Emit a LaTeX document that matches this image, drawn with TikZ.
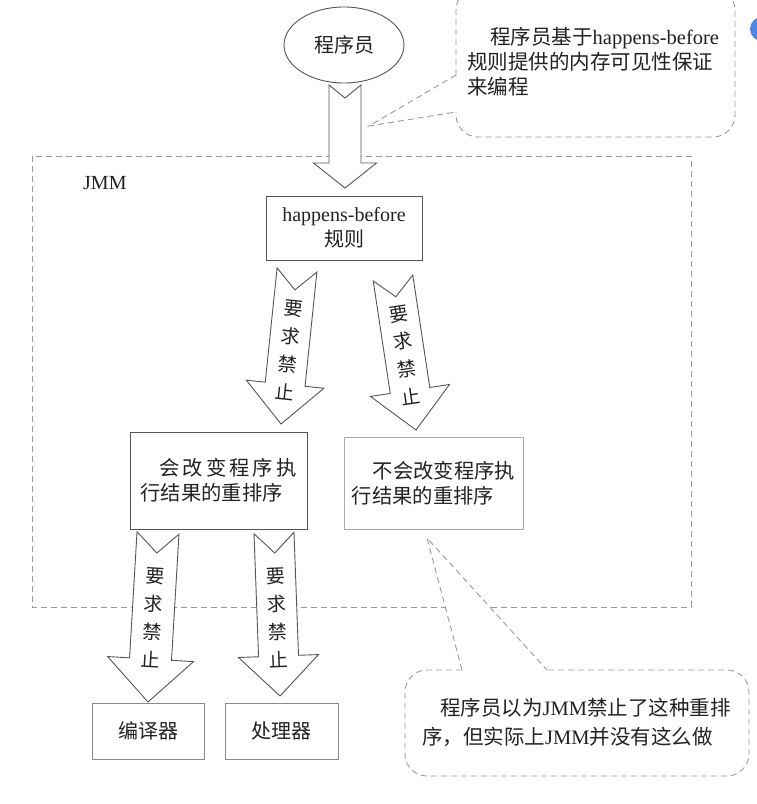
\documentclass[tikz,border=0pt]{standalone}
\usepackage{fontspec}
\setmainfont{Liberation Serif}
\newfontfamily\cjk{Noto Sans CJK SC}
\usetikzlibrary{calc,shapes.geometric}
\definecolor{txt}{HTML}{222222}
\definecolor{dk}{HTML}{555555}
\definecolor{md}{HTML}{8A8A8A}
\definecolor{lt}{HTML}{AAAAAA}
\definecolor{dsh}{HTML}{9A9A9A}
\definecolor{gblue}{HTML}{4A86E8}
\newcommand{\blkarrow}[6]{%
  \coordinate (tmpH) at ($(#2)!#5!(#1)$);
  \draw[arrowline] ($(#1)!#3!90:(#2)$) -- ($(#1)!#6!(#2)$) -- ($(#1)!#3!-90:(#2)$)
    -- ($(tmpH)!#3!-90:(#2)$) -- ($(tmpH)!#4!-90:(#2)$) -- (#2)
    -- ($(tmpH)!#4!90:(#2)$) -- ($(tmpH)!#3!90:(#2)$) -- cycle;
}
\tikzset{
  txtstyle/.style={text=txt, font=\fontsize{20}{25}\selectfont, inner sep=0pt},
  boxdark/.style={draw=dk, line width=1pt, rectangle, inner sep=0pt},
  boxlight/.style={draw=lt, line width=1pt, rectangle, inner sep=0pt},
  boxmid/.style={draw=md, line width=1pt, rectangle, inner sep=0pt},
  arrowline/.style={draw=dk, line width=0.9pt, fill=white, line join=miter},
  dashline/.style={draw=dsh, line width=0.9pt, dash pattern=on 6pt off 4pt},
  arrowtext/.style={txtstyle, align=center, font=\cjk\fontsize{19}{28}\selectfont},
}
\begin{document}
\begin{tikzpicture}[x=1pt,y=-1pt]
\useasboundingbox (0,0) rectangle (756,804);
\fill[white] (0,0) rectangle (756,804);

% JMM dashed frame
\draw[dashline] (32,156) rectangle (691,607);
\node[txtstyle, anchor=west] (jmm) at (83,183) {JMM};

% nodes
\node[draw=dk, line width=0.9pt, ellipse, minimum width=120pt, minimum height=76pt, txtstyle, font=\cjk\fontsize{20}{25}\selectfont] (prog) at (344,45) {程序员};
\node[boxdark, minimum width=156pt, minimum height=64pt, txtstyle, align=center] (hb) at (344,228) {happens-before\\{\cjk 规则}};
\node[boxdark, minimum width=177pt, minimum height=97pt, txtstyle, align=left, font=\cjk\fontsize{20.3}{25}\selectfont] (b1) at (218.5,480.5)
  {\hspace{19pt}会\hspace{3pt}改\hspace{3pt}变\hspace{3pt}程\hspace{3pt}序\hspace{3pt}执\\行结果的重排序};
\node[boxlight, minimum width=179pt, minimum height=92pt, txtstyle, align=left, font=\cjk\fontsize{20.3}{25}\selectfont] (b2) at (433.5,483)
  {\hspace{21pt}不会改变程序执\\行结果的重排序};
\node[boxmid, minimum width=112pt, minimum height=56pt, txtstyle, font=\cjk\fontsize{20}{25}\selectfont] (comp) at (148,731) {编译器};
\node[boxmid, minimum width=113pt, minimum height=56pt, txtstyle, font=\cjk\fontsize{20}{25}\selectfont] (proc) at (281.5,731) {处理器};

% block arrows
\coordinate (bigT) at (345,85);   \coordinate (bigH) at (345,188);
\coordinate (ulT) at (297,270);   \coordinate (ulH) at (281,424);
\coordinate (urT) at (393,278);   \coordinate (urH) at (416,430);
\coordinate (llT) at (158,533);   \coordinate (llH) at (148,702);
\coordinate (lrT) at (274,533);   \coordinate (lrH) at (280,696);
\blkarrow{bigT}{bigH}{16pt}{31.5pt}{25pt}{13pt}
\blkarrow{ulT}{ulH}{20pt}{39pt}{40pt}{20pt}
\blkarrow{urT}{urH}{20pt}{40pt}{40pt}{19pt}
\blkarrow{llT}{llH}{21pt}{43pt}{43pt}{20pt}
\blkarrow{lrT}{lrH}{20pt}{40pt}{40pt}{20pt}
\node[arrowtext, rotate=-6] (ult) at (289,350) {要\\求\\禁\\止};
\node[arrowtext, rotate=8.6] (urt) at (405,355) {要\\求\\禁\\止};
\node[arrowtext, rotate=-3.4] (llt) at (153,618) {要\\求\\禁\\止};
\node[arrowtext, rotate=2.1] (lrt) at (277,618) {要\\求\\禁\\止};

% top callout
\fill[white, rounded corners=22pt] (456,-12) -- (735,-12) -- (735,137) -- (456,137) -- cycle;
\draw[dashline, rounded corners=22pt] (456,75) -- (456,-12) -- (735,-12) -- (735,137) -- (456,137) -- (456,112);
\coordinate (ctip) at (369,126);
\draw[dashline] (456,75) -- (ctip) -- (456,112);
\node[txtstyle, anchor=west, align=left, font=\fontsize{20.5}{25}\selectfont] (ctext) at (467,62)
  {\hspace{23pt}{\cjk 程序员基于}happens-before\\{\cjk 规则提供的内存可见性保证}\\{\cjk 来编程}};

% bottom callout
\coordinate (btip) at (427,538);
\fill[white] (462,670) -- (btip) -- (547,670) -- cycle;
\fill[white, rounded corners=22pt] (405,670) -- (749,670) -- (749,776) -- (405,776) -- cycle;
\draw[dashline, rounded corners=22pt] (462,670) -- (405,670) -- (405,776) -- (749,776) -- (749,670) -- (547,670);
\draw[dashline] (462,670) -- (btip) -- (547,670);
\node[txtstyle, anchor=west, align=left, font=\fontsize{20.5}{29}\selectfont] (btext) at (422,722.5)
  {\hspace{18pt}{\cjk 程序员以为}JMM{\cjk 禁止了这种重排}\\{\cjk 序，但实际上}JMM{\cjk 并没有这么做}};

% partial blue circle at the right edge
\fill[gblue] (762,29) circle (12pt);
\end{tikzpicture}
\end{document}
